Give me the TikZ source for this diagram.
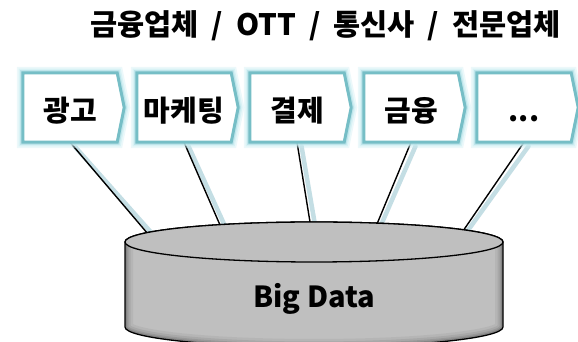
\documentclass[tikz,border=0pt]{standalone}
\usepackage{fontspec}
\newfontfamily\kr{Noto Sans CJK KR}
\usetikzlibrary{calc}
\definecolor{frame}{RGB}{118,190,198}
\definecolor{glow}{RGB}{200,236,241}
\definecolor{lineglow}{RGB}{196,222,228}
\definecolor{cylgrey}{RGB}{191,191,191}
\definecolor{cylleft}{RGB}{150,150,150}
\definecolor{cylright}{RGB}{112,112,112}
\pgfdeclarehorizontalshading{cylside}{100bp}{color(0bp)=(cylleft); color(3bp)=(cylgrey); color(92bp)=(cylgrey); color(100bp)=(cylright)}
\newcommand\widesp{\hspace{13pt}}
\begin{document}
\begin{tikzpicture}[x=1pt,y=1pt,
  boxst/.style={minimum width=94pt, minimum height=69pt, inner sep=0pt},
  chev/.style={fill=white, draw=frame, line width=3pt,
    preaction={draw=glow, line width=12pt, opacity=.35},
    preaction={draw=glow, line width=8.5pt, opacity=.55},
    preaction={draw=glow!70!frame, line width=5.5pt, opacity=.6}},
  lbl/.style={font=\kr\bfseries\fontsize{29}{29}\selectfont, anchor=base},
  ttl/.style={font=\kr\bfseries\fontsize{29.5}{29.5}\selectfont, anchor=base},
  conn/.style={draw=black, line width=1.4pt},
  connshadow/.style={draw=lineglow, line width=4.5pt, line cap=round}]
\useasboundingbox (0,0) rectangle (578,342);

% title
\node[ttl] (title) at (325.5,306) {금융업체\widesp/\widesp OTT\widesp/\widesp 통신사\widesp/\widesp 전문업체};

% box frames (invisible anchors for the chevrons)
\node[boxst] (b1) at (70,234.5) {};
\node[boxst] (b2) at (184,234.5) {};
\node[boxst] (b3) at (297,234.5) {};
\node[boxst] (b4) at (411,234.5) {};
\node[boxst] (b5) at (524,234.5) {};

% connector end points on the cylinder top
\coordinate (e1) at (148,108);
\coordinate (e2) at (220,117);
\coordinate (e3) at (310,120);
\coordinate (e4) at (377,118);
\coordinate (e5) at (463,111);

% connectors with their soft shadow
\foreach \i in {1,...,5}{
  \draw[connshadow] ([xshift=4.5pt,yshift=-4pt]b\i.south) -- ([xshift=4.5pt]e\i);
}
\foreach \i in {1,...,5}{
  \draw[conn] (b\i.south) -- (e\i);
}

% chevron boxes
\foreach \i in {1,...,5}{
  \path[chev] (b\i.north west) -- (b\i.north east) -- ([xshift=7pt]b\i.east)
    -- (b\i.south east) -- (b\i.south west) -- cycle;
}
\node[lbl] (t1) at ([yshift=-14pt]b1.center) {광고};
\node[lbl] (t2) at ([yshift=-14pt]b2.center) {마케팅};
\node[lbl] (t3) at ([yshift=-14pt]b3.center) {결제};
\node[lbl] (t4) at ([yshift=-14pt]b4.center) {금융};
\node[lbl] (t5) at ([yshift=-14pt]b5.center) {...};

% cylinder
\path[shading=cylside] (125,100) -- (125,15)
  arc[start angle=180, end angle=360, x radius=189, y radius=20]
  -- (503,100) arc[start angle=0, end angle=180, x radius=189, y radius=20] -- cycle;
\begin{scope}
  \clip (125,100) -- (125,15)
    arc[start angle=180, end angle=360, x radius=189, y radius=20]
    -- (503,100) arc[start angle=0, end angle=180, x radius=189, y radius=20] -- cycle;
  \foreach \w/\o in {16/.05,11/.07,7/.09,4/.12}{
    \draw[black, opacity=\o, line width=\w pt] (125,100) -- (125,15)
      arc[start angle=180, end angle=360, x radius=189, y radius=20] -- (503,100);
  }
\end{scope}
\draw[line width=1.3pt] (125,100) -- (125,15)
  arc[start angle=180, end angle=360, x radius=189, y radius=20]
  -- (503,100) arc[start angle=0, end angle=180, x radius=189, y radius=20] -- cycle;
\draw[line width=1.3pt, fill=cylgrey] (314,100) ellipse[x radius=189, y radius=20];
\node[font=\kr\bfseries\fontsize{29}{29}\selectfont, anchor=base] (db) at (314,34) {Big Data};
\end{tikzpicture}
\end{document}
